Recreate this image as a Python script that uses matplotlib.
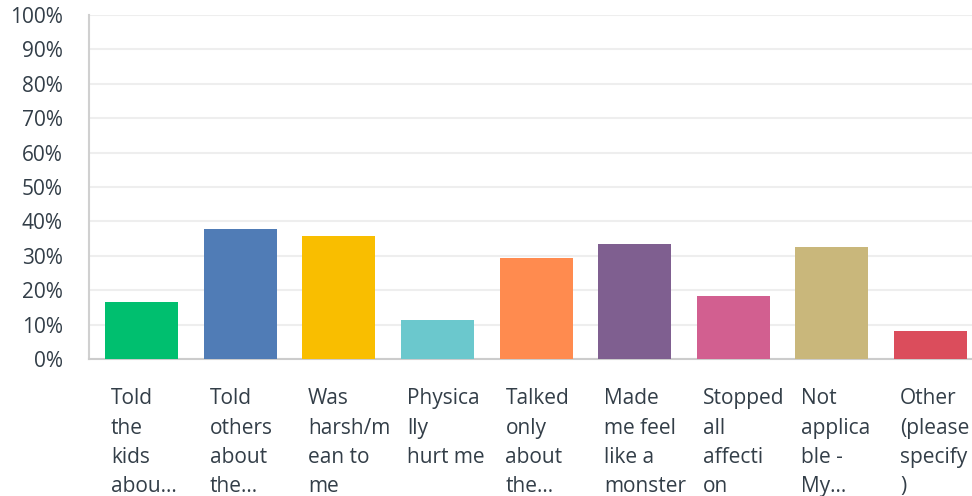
import matplotlib
matplotlib.use("Agg")
import matplotlib.pyplot as plt
import numpy as np

labels = ["Told\nthe\nkids\nabou...", "Told\nothers\nabout\nthe...", "Was\nharsh/m\nean to\nme",
          "Physica\nlly\nhurt me", "Talked\nonly\nabout\nthe...", "Made\nme feel\nlike a\nmonster",
          "Stopped\nall\naffecti\non", "Not\napplica\nble -\nMy...", "Other\n(please\nspecify\n)"]
values = [16.5, 37.7, 35.7, 11.3, 29.3, 33.3, 18.3, 32.5, 8.1]
colors = ["#00bf6f", "#507cb6", "#f9be00", "#6bc8cd", "#ff8b4f", "#7f5f90", "#d25f90", "#c9b77b", "#db4d5c"]
yticks = np.arange(0, 101, 10)

plt.rcParams['font.family'] = ['Open Sans', 'DejaVu Sans']
fig = plt.figure(figsize=(9.72, 4.96), dpi=100)
ax = fig.add_axes([89/972, 1 - 359/496, (972 - 89)/972, 344/496])

x = np.arange(len(values))
ax.bar(x, values, width=0.74, color=colors, zorder=3)
ax.set_xlim(-0.532, 8.42)
ax.set_ylim(0, 100)
ax.set_yticks(yticks)
ax.set_yticklabels([f"{t}%" for t in yticks], fontsize=15, color="#333e48")
ax.yaxis.grid(True, color="#eeeeee", linewidth=1.5, zorder=0)
ax.tick_params(axis="y", length=0, pad=19)
ax.set_xticks([])
for s in ["top", "right"]:
    ax.spines[s].set_visible(False)
ax.spines["left"].set_color("#d0d0d0")
ax.spines["bottom"].set_color("#cccccc")
ax.spines["left"].set_linewidth(1.5)
ax.spines["bottom"].set_linewidth(1.5)

for i, lab in enumerate(labels):
    ax.text(i - 0.31, -8.5, lab, ha="left", va="top", fontsize=15, color="#333e48",
            linespacing=1.52, transform=ax.transData, clip_on=False)

fig.savefig("out.png", dpi=100)
